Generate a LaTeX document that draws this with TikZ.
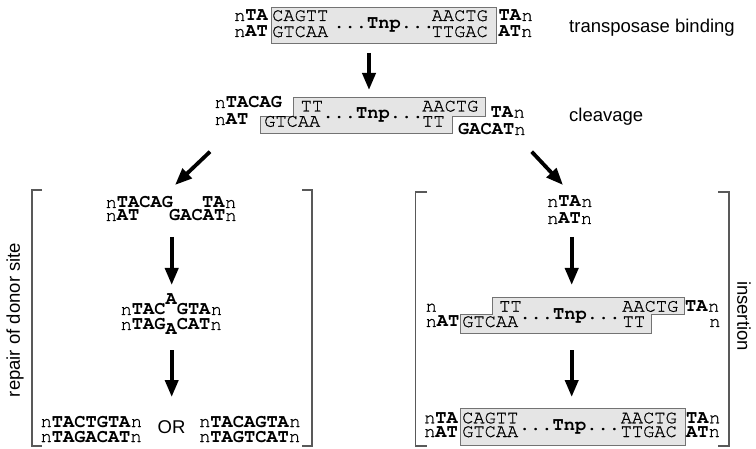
\documentclass[tikz,border=0pt]{standalone}
\usepackage{fontspec}
\setmainfont{Liberation Sans}
\newfontfamily\dna{texgyrecursor}[Extension=.otf, UprightFont=*-regular, BoldFont=*-bold, UprightFeatures={FakeBold=0.8}]
\usetikzlibrary{arrows.meta}
\newcommand\bd[1]{\textbf{#1}}
\tikzset{
  seq/.style={anchor=base west, inner sep=0pt, font=\dna\fontsize{18.7bp}{20bp}\selectfont},
  tnp/.style={anchor=base, inner sep=0pt, font=\dna\bfseries\fontsize{18.7bp}{20bp}\selectfont},
  lbl/.style={anchor=base west, inner sep=0pt, font=\fontsize{18.5bp}{20bp}\selectfont},
  sidelbl/.style={inner sep=0pt, font=\fontsize{18.5bp}{20bp}\selectfont},
  tnpbox/.style={draw=black!55, fill=black!10, line width=1bp},
  bigarrow/.style={-{Triangle[width=13bp,length=17bp]}, line width=3.8bp},
  bracket/.style={draw=black!65, line width=1.2bp}
}
\begin{document}
\begin{tikzpicture}[x=1bp,y=-1bp]
\useasboundingbox (0,0) rectangle (756,449);

% ---- transposase binding ----
\draw[tnpbox] (271,8) rectangle (496,44);
\node[seq] (b1l1) at (234,21) {n\bd{TA}};
\node[seq] (b1l2) at (234,37) {n\bd{AT}};
\node[seq] (b1c1) at (272,21) {CAGTT};
\node[seq] (b1c2) at (272,37) {GTCAA};
\node[seq] (b1e1) at (431.5,21) {AACTG};
\node[seq] (b1e2) at (431.5,37) {TTGAC};
\node[seq] (b1r1) at (498.5,21) {\bd{TA}n};
\node[seq] (b1r2) at (498.5,37) {\bd{AT}n};
\node[tnp] (b1tnp) at (384,28.5) {...Tnp...};
\node[lbl] (lbind) at (569,33) {transposase binding};

\coordinate (a1s) at (369,53);
\coordinate (a1e) at (369,90);
\draw[bigarrow] (a1s) -- (a1e);

% ---- cleavage ----
\draw[tnpbox] (293,98) -- (485,98) -- (485,116.7) -- (452,116.7) -- (452,133.3)
  -- (260,133.3) -- (260,116.7) -- (293,116.7) -- cycle;
\node[seq] (c1l1) at (214.5,108) {n\bd{TACAG}};
\node[seq] (c1l2) at (214.5,125) {n\bd{AT}};
\node[seq] (c1c1) at (300.5,111.5) {TT};
\node[seq] (c1c2) at (264,126.7) {GTCAA};
\node[seq] (c1e1) at (422,111.5) {AACTG};
\node[seq] (c1e2) at (422,126.7) {TT};
\node[seq] (c1r1) at (490.5,117.7) {\bd{TA}n};
\node[seq] (c1r2) at (458,135) {\bd{GACAT}n};
\node[tnp] (c1tnp) at (373,119) {...Tnp...};
\node[lbl] (lcleave) at (569,122) {cleavage};

\coordinate (a2s) at (210,151.7);
\coordinate (a2e) at (175,185);
\draw[bigarrow] (a2s) -- (a2e);
\coordinate (a3s) at (531.7,151.7);
\coordinate (a3e) at (563,185);
\draw[bigarrow] (a3s) -- (a3e);

% ---- repair of donor site ----
\draw[bracket] (42,190) -- (32,190) -- (32,446) -- (42,446);
\draw[bracket] (302,190) -- (312,190) -- (312,446) -- (302,446);
\node[sidelbl, rotate=90] (lrepair) at (15,320) {repair of donor site};

\node[seq] (d1l1) at (105.5,208) {n\bd{TACAG}};
\node[seq] (d1r1) at (202,208) {\bd{TA}n};
\node[seq] (d1l2) at (105.5,221) {n\bd{AT}};
\node[seq] (d1r2) at (169,221) {\bd{GACAT}n};

\coordinate (a4s) at (171.7,237);
\coordinate (a4e) at (171.7,285);
\draw[bigarrow] (a4s) -- (a4e);

\node[seq] (d2l1) at (120.5,315) {n\bd{TAC\raisebox{10bp}{A}GTA}n};
\node[seq] (d2l2) at (120.5,330) {n\bd{TAG\raisebox{-5bp}{A}CAT}n};

\coordinate (a5s) at (171.7,350);
\coordinate (a5e) at (171.7,397);
\draw[bigarrow] (a5s) -- (a5e);

\node[seq] (d3a1) at (40.5,427) {n\bd{TACTGTA}n};
\node[seq] (d3a2) at (40.5,442) {n\bd{TAGACAT}n};
\node[sidelbl, anchor=base] (lor) at (171.5,433) {OR};
\node[seq] (d3b1) at (199,427) {n\bd{TACAGTA}n};
\node[seq] (d3b2) at (199,442) {n\bd{TAGTCAT}n};

% ---- insertion ----
\draw[bracket] (427,192) -- (415.5,192) -- (415.5,446) -- (427,446);
\draw[bracket] (718,192) -- (729,192) -- (729,446) -- (718,446);
\node[sidelbl, rotate=-90] (linsert) at (744,316) {insertion};

\node[seq] (i1l1) at (547,207) {n\bd{TA}n};
\node[seq] (i1l2) at (547,224) {n\bd{AT}n};

\coordinate (a6s) at (571.7,237);
\coordinate (a6e) at (571.7,285);
\draw[bigarrow] (a6s) -- (a6e);

\draw[tnpbox] (492.7,297.3) -- (684,297.3) -- (684,315) -- (651.7,315) -- (651.7,333.3)
  -- (460,333.3) -- (460,315) -- (492.7,315) -- cycle;
\node[seq] (i2l1) at (425.5,311.7) {n};
\node[seq] (i2l2) at (425.5,327) {n\bd{AT}};
\node[seq] (i2c1) at (499,311.7) {TT};
\node[seq] (i2c2) at (462,327) {GTCAA};
\node[seq] (i2e1) at (622,311.7) {AACTG};
\node[seq] (i2e2) at (622.5,327) {TT};
\node[seq] (i2r1) at (685,311.7) {\bd{TA}n};
\node[seq] (i2r2) at (709,327) {n};
\node[tnp] (i2tnp) at (570,319.5) {...Tnp...};

\coordinate (a7s) at (571.7,350);
\coordinate (a7e) at (571.7,397);
\draw[bigarrow] (a7s) -- (a7e);

\draw[tnpbox] (460,408.3) rectangle (685,445);
\node[seq] (i3l1) at (424,423.3) {n\bd{TA}};
\node[seq] (i3l2) at (424,437) {n\bd{AT}};
\node[seq] (i3c1) at (462,423.3) {CAGTT};
\node[seq] (i3c2) at (462,437) {GTCAA};
\node[seq] (i3e1) at (620.5,423.3) {AACTG};
\node[seq] (i3e2) at (620.5,437) {TTGAC};
\node[seq] (i3r1) at (686,423.3) {\bd{TA}n};
\node[seq] (i3r2) at (686,437) {\bd{AT}n};
\node[tnp] (i3tnp) at (569.5,430) {...Tnp...};
\end{tikzpicture}
\end{document}
